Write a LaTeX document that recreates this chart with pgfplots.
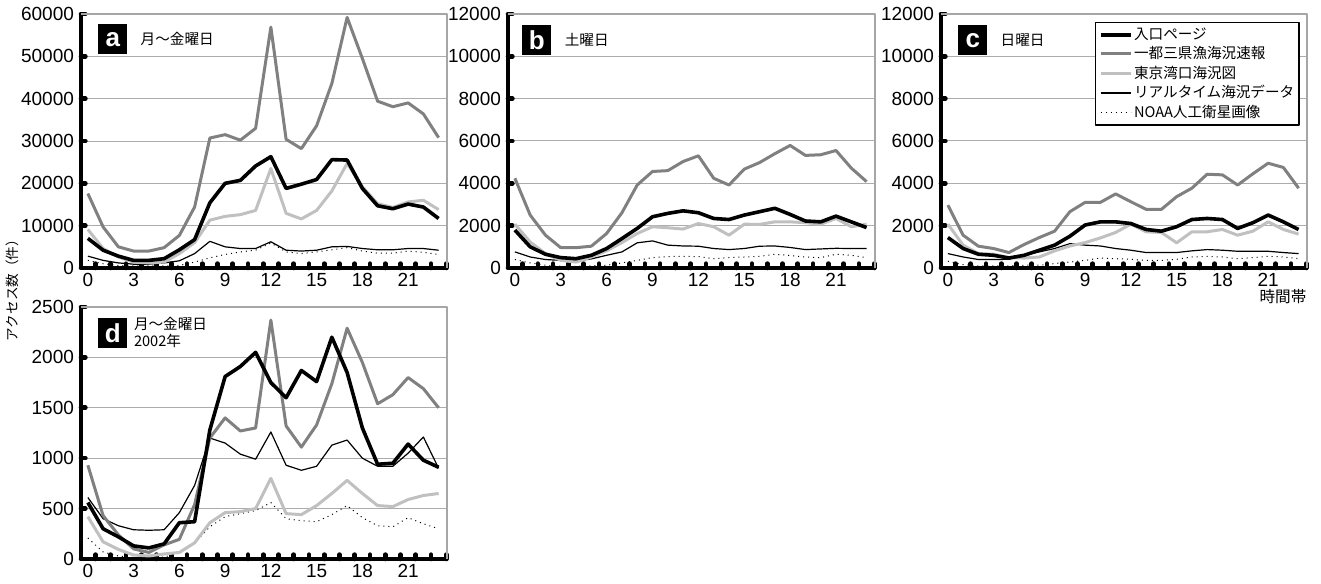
\documentclass[border=0pt]{standalone}
\usepackage{fontspec}
\setmainfont{Liberation Sans}
\newfontfamily\jp{Noto Sans CJK JP}
\usepackage{pgfplots}
\usepackage{pgfplotstable}
\pgfplotsset{compat=1.18}

% columns: h, in = 入口ページ, it = 一都三県漁海況速報, tk = 東京湾口海況図, rt = リアルタイム海況データ, no = NOAA人工衛星画像
\pgfplotstableread{
h in it tk rt no
0 7000 17600 9100 2800 1800
1 4200 9700 4600 1800 1000
2 2800 5000 2600 1200 600
3 1800 4000 1400 900 500
4 1800 4000 1200 900 500
5 2200 4800 1400 1200 500
6 4300 7700 3400 1700 600
7 6700 14400 6000 3400 1400
8 15400 30700 11300 6300 2400
9 20000 31500 12200 5000 3200
10 20700 30200 12600 4600 3800
11 24100 33000 13600 4600 4200
12 26300 56900 23500 6200 5900
13 18800 30400 12900 4200 3800
14 19800 28200 11600 4000 3400
15 20900 33600 13600 4200 3800
16 25600 43600 18200 5000 4300
17 25500 59200 24700 5100 4800
18 18800 49500 19200 4600 4000
19 14700 39400 15200 4300 3500
20 14000 38100 14300 4300 3500
21 15100 39000 15600 4600 4000
22 14400 36400 16000 4600 3700
23 11700 30800 13800 4200 3200
}\tabA

\pgfplotstableread{
h in it tk rt no
0 1790 4240 2070 760 400
1 1000 2500 1230 520 240
2 650 1550 680 400 130
3 490 960 360 360 80
4 440 960 280 330 80
5 600 1030 520 430 100
6 920 1630 810 600 130
7 1390 2610 1200 760 240
8 1870 3920 1630 1190 360
9 2420 4560 1950 1280 490
10 2580 4600 1900 1080 540
11 2700 5030 1840 1040 550
12 2610 5300 2100 1030 540
13 2340 4240 1950 920 440
14 2290 3920 1550 870 490
15 2500 4670 2070 920 520
16 2660 4980 2060 1030 550
17 2820 5400 2180 1040 650
18 2530 5790 2180 970 590
19 2220 5320 2140 870 520
20 2180 5350 2070 900 490
21 2450 5550 2340 930 650
22 2180 4720 1950 920 600
23 1910 4080 2070 920 490
}\tabB

\pgfplotstableread{
h in it tk rt no
0 1440 2970 2070 680 320
1 920 1550 1080 520 160
2 650 1030 680 400 100
3 600 920 650 400 100
4 470 730 490 410 100
5 600 1110 470 600 130
6 840 1440 520 760 130
7 1080 1740 810 920 210
8 1500 2660 1040 1150 280
9 2030 3100 1200 1080 360
10 2180 3100 1420 1040 470
11 2180 3500 1680 920 440
12 2100 3130 2070 840 410
13 1820 2770 1710 730 360
14 1740 2770 1680 730 360
15 1950 3370 1190 730 410
16 2290 3770 1710 810 520
17 2340 4430 1710 870 550
18 2290 4400 1820 840 520
19 1870 3920 1550 790 440
20 2140 4450 1740 790 490
21 2500 4950 2180 790 550
22 2180 4750 1820 730 520
23 1820 3770 1600 680 440
}\tabC

\pgfplotstableread{
h in it tk rt no
0 560 930 420 610 208
1 300 430 170 400 70
2 220 240 95 330 30
3 130 100 40 290 15
4 110 65 30 285 15
5 150 140 50 290 20
6 360 195 65 460 60
7 370 540 160 730 160
8 1280 1200 360 1200 320
9 1810 1400 460 1150 420
10 1910 1270 470 1040 450
11 2050 1300 500 990 480
12 1750 2370 800 1260 560
13 1600 1320 450 930 400
14 1870 1110 440 880 380
15 1760 1330 530 920 370
16 2200 1740 650 1130 440
17 1850 2290 780 1180 530
18 1300 1950 650 1000 410
19 940 1540 530 920 330
20 950 1630 520 920 320
21 1140 1800 590 1050 410
22 980 1690 630 1210 350
23 910 1500 650 900 300
}\tabD

\tikzset{
  s1/.style={black, line width=1.8pt},
  s2/.style={color={rgb,255:red,128;green,128;blue,128}, line width=1.5pt},
  s3/.style={color={rgb,255:red,192;green,192;blue,192}, line width=1.5pt},
  s4/.style={black, line width=0.6pt},
  s5/.style={black, line width=0.5pt, dotted},
  lab/.style={anchor=north west, fill=black, text=white, minimum width=14.5pt, minimum height=15pt, inner sep=0pt, font=\bfseries\fontsize{13}{13}\selectfont},
  jtxt/.style={font=\jp\fontsize{7.3}{8.5}\selectfont},
}

\pgfplotsset{
  panel/.style={
    scale only axis, width=183pt, height=127pt, anchor=south west,
    xmin=-0.45, xmax=23.55, ymin=0,
    axis x line*=bottom, axis y line*=left,
    axis line style={line width=2pt, black, -},
    xtick={0,3,...,21},
    minor xtick={0.5,1.5,...,23.5},
    major x tick style={draw=none},
    minor x tick style={black, line width=2.3pt, line cap=round},
    major y tick style={black, line width=2.3pt, line cap=round},
    major tick length=2.2pt, minor tick length=2.2pt,
    tick align=inside,
    ymajorgrids,
    major grid style={gray!65, line width=0.5pt},
    ticklabel style={font=\fontsize{9.5}{9.5}\selectfont},
    /pgf/number format/assume math mode=true,
    /pgf/number format/1000 sep={},
    scaled y ticks=false,
    xticklabel style={yshift=1pt},
    clip=false,
    after end axis/.code={\draw[gray!70, line width=0.6pt] (rel axis cs:0,1) -- (rel axis cs:1,1) -- (rel axis cs:1,0);},
    line join=round,
  },
}

\begin{document}
\begin{tikzpicture}
\useasboundingbox (0,0) rectangle (660.5pt,291.5pt);

% panel a
\begin{axis}[panel, at={(40.5pt,157.5pt)}, ymax=60000, ytick={0,10000,...,60000}]
\addplot[s5] table[x=h,y=no]{\tabA};
\addplot[s4] table[x=h,y=rt]{\tabA};
\addplot[s3] table[x=h,y=tk]{\tabA};
\addplot[s2] table[x=h,y=it]{\tabA};
\addplot[s1] table[x=h,y=in]{\tabA};
\node[lab] (la) at (rel axis cs:0.046,0.961) {a};
\node[jtxt, anchor=west] at ([xshift=3pt]la.east) {月～金曜日};
\end{axis}

% panel b
\begin{axis}[panel, at={(254pt,157.5pt)}, width=183.5pt, ymax=12000, ytick={0,2000,...,12000}]
\addplot[s5] table[x=h,y=no]{\tabB};
\addplot[s4] table[x=h,y=rt]{\tabB};
\addplot[s3] table[x=h,y=tk]{\tabB};
\addplot[s2] table[x=h,y=it]{\tabB};
\addplot[s1] table[x=h,y=in]{\tabB};
\node[lab] (lb) at (rel axis cs:0.038,0.957) {b};
\node[jtxt, anchor=west] at ([xshift=3pt]lb.east) {土曜日};
\end{axis}

% panel c
\begin{axis}[panel, at={(470.5pt,157.5pt)}, ymax=12000, ytick={0,2000,...,12000},
  legend cell align=left,
  legend style={at={(0.421,0.968)}, anchor=north west, draw=black, line width=0.6pt,
    fill=white, font=\jp\fontsize{7.3}{8}\selectfont, inner sep=1.5pt, row sep=0.3pt,
    nodes={inner sep=0.9pt}},
  legend image code/.code={\draw[#1] (0pt,0pt) -- (15pt,0pt);},
  reverse legend]
\addplot[s5] table[x=h,y=no]{\tabC};
\addplot[s4] table[x=h,y=rt]{\tabC};
\addplot[s3] table[x=h,y=tk]{\tabC};
\addplot[s2] table[x=h,y=it]{\tabC};
\addplot[s1] table[x=h,y=in]{\tabC};
\legend{NOAA人工衛星画像, リアルタイム海況データ, 東京湾口海況図, 一都三県漁海況速報, 入口ページ}
\node[lab] (lc) at (rel axis cs:0.046,0.957) {c};
\node[jtxt, anchor=west] at ([xshift=3pt]lc.east) {日曜日};
\end{axis}

% panel d
\begin{axis}[panel, at={(40.5pt,12pt)}, height=126pt, ymax=2500, ytick={0,500,...,2500}]
\addplot[s5] table[x=h,y=no]{\tabD};
\addplot[s4] table[x=h,y=rt]{\tabD};
\addplot[s3] table[x=h,y=tk]{\tabD};
\addplot[s2] table[x=h,y=it]{\tabD};
\addplot[s1] table[x=h,y=in]{\tabD};
\node[lab] (ld) at (rel axis cs:0.046,0.956) {d};
\node[jtxt, anchor=north west, align=left, inner sep=0pt] at ([xshift=3pt,yshift=0.5pt]ld.north east) {月～金曜日\\2002年};
\end{axis}

\node[rotate=90, font=\jp\fontsize{6.8}{7}\selectfont] at (6pt,148pt) {アクセス数（件）};
\node[font=\jp\fontsize{7.8}{8}\selectfont] at (641.5pt,143pt) {時間帯};
\end{tikzpicture}
\end{document}
